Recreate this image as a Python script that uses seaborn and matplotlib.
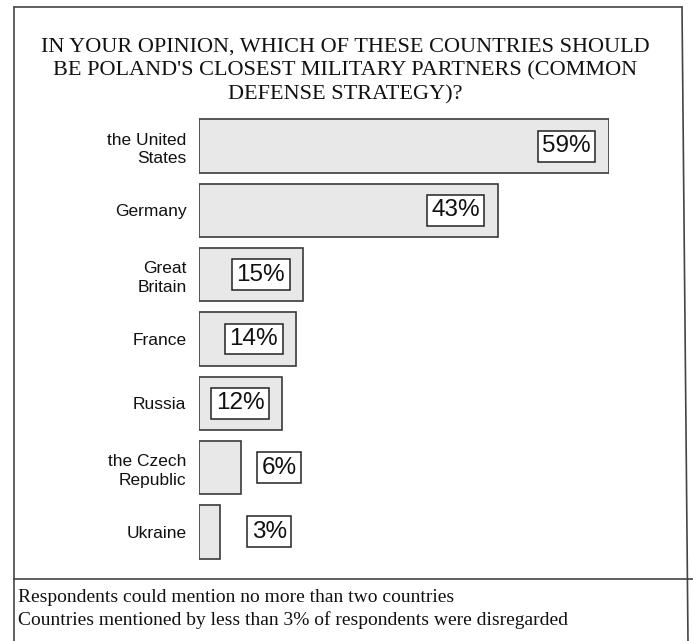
import matplotlib
matplotlib.use("Agg")
import matplotlib.pyplot as plt
import seaborn as sns
import pandas as pd
from matplotlib.lines import Line2D

countries = ["the United\nStates", "Germany", "Great\nBritain", "France",
             "Russia", "the Czech\nRepublic", "Ukraine"]
shares = [59, 43, 15, 14, 12, 6, 3]
title = ("IN YOUR OPINION, WHICH OF THESE COUNTRIES SHOULD\n"
         "BE POLAND'S CLOSEST MILITARY PARTNERS (COMMON\n"
         "DEFENSE STRATEGY)?")
notes = ["Respondents could mention no more than two countries",
         "Countries mentioned by less than 3% of respondents were disregarded"]

df = pd.DataFrame({"country": countries, "share": shares})

sns.set_theme(style="white")
plt.rcParams["font.family"] = ["Liberation Sans", "DejaVu Sans"]

W, H = 693, 641
fig = plt.figure(figsize=(W / 100, H / 100), dpi=100)
ax = fig.add_axes([199 / W, 1 - 564 / H, 410 / W, 450 / H])

sns.barplot(data=df, x="share", y="country", orient="h", ax=ax,
            color="#e8e8e8", edgecolor="#3a3a3a", linewidth=1.2,
            width=0.83, saturation=1)
ax.set_xlim(0, 59)
ax.set_ylim(6.5, -0.5)
ax.set_xlabel("")
ax.set_ylabel("")
ax.set_xticks([])
for s in ax.spines.values():
    s.set_visible(False)
ax.tick_params(axis="y", length=0, pad=9, labelsize=12.5)
for lab in ax.get_yticklabels():
    lab.set_multialignment("right")
    lab.set_linespacing(1.3)
    lab.set_color("#111111")

for i, v in enumerate(shares):
    if v >= 12:
        x, ha = v - 2.6, "right"
    else:
        x, ha = max(v + 3.0, 7.6), "left"
    ax.text(x, i, f"{v}%", ha=ha, va="center", fontsize=17.5,
            color="#111111",
            bbox=dict(boxstyle="square,pad=0.18", fc="white",
                      ec="#222222", lw=1.1))

fig.text(345 / W, 1 - 71 / H, title, ha="center", va="center",
         family="Liberation Serif", fontsize=16, linespacing=1.34,
         color="#111111")
for k, line in enumerate(notes):
    fig.text(18 / W, 1 - (597 + 23 * k) / H, line, ha="left", va="center",
             family="Liberation Serif", fontsize=14, color="#111111")

# frame
lc = "#444444"
def fline(xs, ys):
    fig.add_artist(Line2D([x / W for x in xs], [1 - y / H for y in ys],
                          color=lc, lw=1.2, transform=fig.transFigure))
fline([14, 14], [7, 641])
fline([14, 682], [7, 7])
fline([682, 688], [7, 641])
fline([14, 693], [579, 579])

fig.savefig("out.png", dpi=100)
